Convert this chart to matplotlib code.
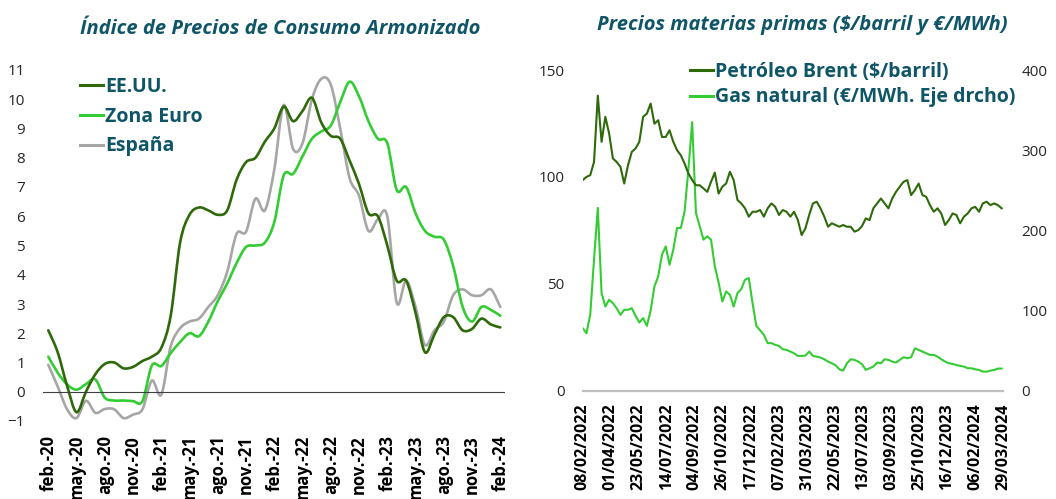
import numpy as np
import pandas as pd
import matplotlib
matplotlib.use('Agg')
import matplotlib.pyplot as plt
from matplotlib.path import Path
from matplotlib.patches import PathPatch
from matplotlib.lines import Line2D

plt.rcParams['font.family'] = ['Open Sans', 'DejaVu Sans']

# --- IPCA (monthly, feb-20 .. feb-24) ---
ipca_ticks = ['feb.-20', 'may.-20', 'ago.-20', 'nov.-20', 'feb.-21', 'may.-21', 'ago.-21',
              'nov.-21', 'feb.-22', 'may.-22', 'ago.-22', 'nov.-22', 'feb.-23', 'may.-23',
              'ago.-23', 'nov.-23', 'feb.-24']
eeuu = [2.1, 1.35, 0.2, -0.7, 0.0, 0.6, 0.95, 1.0, 0.8, 0.85, 1.05, 1.2, 1.5, 2.6, 5.1,
        6.05, 6.3, 6.2, 6.05, 6.2, 7.25, 7.85, 8.0, 8.55, 9.0, 9.75, 9.25, 9.6, 10.05, 9.2,
        8.75, 8.65, 7.9, 7.1, 6.1, 6.0, 5.0, 3.8, 3.8, 2.7, 1.35, 1.95, 2.55, 2.55, 2.1,
        2.15, 2.5, 2.3, 2.2]
zona_euro = [1.2, 0.65, 0.25, 0.07, 0.26, 0.42, -0.2, -0.3, -0.3, -0.32, -0.32, 0.9, 0.88,
             1.32, 1.7, 2.0, 1.9, 2.4, 3.1, 3.7, 4.4, 4.95, 5.0, 5.1, 5.8, 7.4, 7.45, 8.05,
             8.65, 8.9, 9.1, 9.9, 10.6, 10.1, 9.25, 8.65, 8.5, 6.9, 7.0, 6.1, 5.5, 5.3, 5.2,
             4.3, 2.9, 2.4, 2.9, 2.8, 2.6]
espana = [0.92, 0.18, -0.6, -0.9, -0.31, -0.72, -0.59, -0.6, -0.9, -0.78, -0.6, 0.38, -0.1,
          1.55, 2.17, 2.4, 2.5, 2.9, 3.3, 4.1, 5.4, 5.47, 6.6, 6.2, 7.6, 9.8, 8.3, 8.5, 10.0,
          10.7, 10.5, 9.0, 7.3, 6.7, 5.5, 5.9, 6.0, 3.05, 3.8, 2.9, 1.6, 2.1, 2.4, 3.3, 3.5,
          3.3, 3.3, 3.5, 2.9]

# --- materias primas (weekly readings, 08/02/2022 .. 26/03/2024) ---
brent = [98.5, 100.0, 100.8, 107.0, 138.0, 116.4, 128.1, 120.3, 108.6, 107.0, 104.7, 96.9,
         105.4, 111.7, 113.3, 116.4, 128.1, 129.6, 134.3, 124.9, 126.5, 118.7, 118.7, 121.8,
         116.4, 112.5, 110.1, 106.2, 101.6, 98.5, 96.1, 96.1, 94.6, 93.0, 97.7, 102.0, 92.2,
         95.4, 96.9, 102.4, 98.5, 89.2, 87.6, 85.3, 81.4, 83.7, 83.7, 84.5, 81.4, 85.3, 87.6,
         86.0, 82.2, 84.5, 83.7, 81.4, 83.7, 79.8, 72.8, 75.9, 82.2, 87.6, 88.4, 85.3, 81.4,
         76.7, 78.3, 77.5, 76.7, 77.5, 76.7, 76.7, 74.4, 75.1, 77.0, 80.6, 79.8, 85.3, 87.6,
         89.9, 87.6, 85.3, 89.9, 93.0, 95.4, 97.7, 98.5, 91.5, 93.8, 96.9, 91.5, 90.7, 86.8,
         83.7, 85.3, 82.9, 77.5, 79.8, 82.9, 82.2, 78.3, 81.4, 82.9, 85.3, 86.0, 83.7, 87.6,
         88.4, 86.8, 87.6, 86.8, 85.3]
gas = [78.0, 71.7, 95.0, 163.4, 228.0, 121.7, 105.0, 113.4, 109.2, 102.9, 94.6, 100.9,
       100.9, 102.9, 93.4, 85.1, 90.5, 80.9, 100.0, 130.0, 142.5, 169.6, 180.0, 157.1, 175.9,
       203.0, 203.0, 223.8, 275.9, 335.0, 221.7, 205.0, 188.4, 192.5, 188.4, 155.0, 135.0,
       111.3, 123.8, 119.6, 105.0, 121.7, 126.7, 138.4, 140.5, 109.2, 80.9, 75.2, 69.7, 59.3,
       59.3, 57.2, 55.9, 51.7, 50.9, 48.8, 46.7, 43.4, 43.4, 43.8, 48.8, 43.4, 42.5, 41.3,
       39.2, 36.3, 34.2, 31.7, 26.7, 25.0, 34.2, 39.2, 38.4, 36.3, 33.0, 26.0, 28.0, 30.1,
       35.1, 34.2, 39.2, 38.4, 36.3, 35.1, 38.4, 41.7, 40.5, 41.7, 52.9, 50.9, 48.8, 46.7,
       44.6, 44.6, 42.5, 39.2, 36.3, 34.2, 33.4, 32.1, 30.9, 30.1, 28.0, 28.0, 26.7, 25.9,
       23.8, 23.8, 25.0, 25.9, 27.6, 27.6]
fechas = pd.date_range('2022-02-08', periods=len(brent), freq='7D')
fecha_ticks = pd.date_range('2022-02-08', '2024-03-29', freq='52D')

c_us = '#2E6A0A'
c_eu = '#33CC33'
c_es = '#A6A6A6'
c_txt = '#0E5568'


def smooth_path(x, y):
    # excel-like smoothed line drawn as bezier curves
    x = np.asarray(x, float)
    y = np.asarray(y, float)
    n = len(x)
    verts = [(x[0], y[0])]
    codes = [Path.MOVETO]
    for i in range(n - 1):
        x0, y0 = (x[i - 1], y[i - 1]) if i > 0 else (x[i], y[i])
        x3, y3 = (x[i + 2], y[i + 2]) if i + 2 < n else (x[i + 1], y[i + 1])
        c1 = (x[i] + (x[i + 1] - x0) / 6, y[i] + (y[i + 1] - y0) / 6)
        c2 = (x[i + 1] - (x3 - x[i]) / 6, y[i + 1] - (y3 - y[i]) / 6)
        verts += [c1, c2, (x[i + 1], y[i + 1])]
        codes += [Path.CURVE4] * 3
    return Path(verts, codes)


fig = plt.figure(figsize=(10.56, 4.99), dpi=100)

# ---------------- left chart ----------------
ax1 = fig.add_axes([43 / 1056, 78 / 499, 462 / 1056, 351 / 499])
idx = np.arange(len(eeuu))
for serie, col in [(espana, c_es), (zona_euro, c_eu), (eeuu, c_us)]:
    ax1.add_patch(PathPatch(smooth_path(idx, serie), facecolor='none', edgecolor=col,
                            lw=1.9, capstyle='round', joinstyle='round'))
ax1.axhline(0, color='#404040', lw=0.8)
ax1.set_xlim(-0.56, 48.5)
ax1.set_ylim(-1, 11)
ax1.set_yticks(range(-1, 12))
ax1.set_xticks(np.arange(0, 49, 3))
ax1.set_xticklabels(ipca_ticks, rotation=90, fontweight='bold', fontsize=12)
for s in ax1.spines.values():
    s.set_visible(False)
ax1.tick_params(axis='both', length=0)
ax1.tick_params(axis='y', pad=13, labelsize=11, labelcolor='#262626')
ax1.tick_params(axis='x', pad=10)
handles1 = [Line2D([], [], color=c_us, lw=2.2), Line2D([], [], color=c_eu, lw=2.2),
            Line2D([], [], color=c_es, lw=2.2)]
ax1.legend(handles1, ['EE.UU.', 'Zona Euro', 'España'], loc='upper left',
           bbox_to_anchor=(80 / 1056, 1 - 77 / 499), bbox_transform=fig.transFigure,
           frameon=False, handlelength=1.2, handletextpad=0.1, labelspacing=0.5,
           borderpad=0, borderaxespad=0,
           prop={'weight': 'bold', 'size': 14}, labelcolor=c_txt)
fig.text(280 / 1056, 1 - 29 / 499, 'Índice de Precios de Consumo Armonizado', ha='center',
         va='center', fontsize=14.5, fontweight='bold', style='italic', color=c_txt)

# ---------------- right chart ----------------
ax2 = fig.add_axes([582.7 / 1056, 108.3 / 499, 420.6 / 1056, 320.7 / 499])
ax3 = ax2.twinx()
ax2.plot(fechas, brent, color=c_us, lw=1.5, zorder=3)
ax3.plot(fechas, gas, color=c_eu, lw=1.5)
ax2.set_zorder(ax3.get_zorder() + 1)
ax2.patch.set_visible(False)
ax2.set_xlim(pd.Timestamp('2022-02-08'), pd.Timestamp('2024-03-29'))
ax2.set_ylim(0, 150)
ax3.set_ylim(0, 400)
ax2.set_yticks([0, 50, 100, 150])
ax3.set_yticks([0, 100, 200, 300, 400])
ax2.set_xticks(fecha_ticks)
ax2.set_xticklabels([d.strftime('%d/%m/%Y') for d in fecha_ticks], rotation=90,
                    fontweight='bold', fontsize=11.5)
for a in (ax2, ax3):
    for s in a.spines.values():
        s.set_visible(False)
    a.tick_params(axis='both', length=0, labelsize=11, labelcolor='#262626')
ax2.spines['bottom'].set_visible(True)
ax2.spines['bottom'].set_color('#BFBFBF')
ax2.spines['bottom'].set_linewidth(1.6)
ax2.tick_params(axis='y', pad=13)
ax3.tick_params(axis='y', pad=13)
ax2.tick_params(axis='x', pad=9, labelcolor='black', labelsize=11.5)
handles2 = [Line2D([], [], color=c_us, lw=2.2), Line2D([], [], color=c_eu, lw=2.2)]
ax2.legend(handles2, ['Petróleo Brent ($/barril)', 'Gas natural (€/MWh. Eje drcho)'],
           loc='upper left', bbox_to_anchor=(690 / 1056, 1 - 62 / 499),
           bbox_transform=fig.transFigure, frameon=False, handlelength=1.2,
           handletextpad=0.1, labelspacing=0.28, borderpad=0, borderaxespad=0,
           prop={'weight': 'bold', 'size': 14}, labelcolor=c_txt)
fig.text(802 / 1056, 1 - 25 / 499, 'Precios materias primas ($/barril y €/MWh)',
         ha='center', va='center', fontsize=14.5, fontweight='bold', style='italic',
         color=c_txt)

fig.savefig('out.png', dpi=100)
